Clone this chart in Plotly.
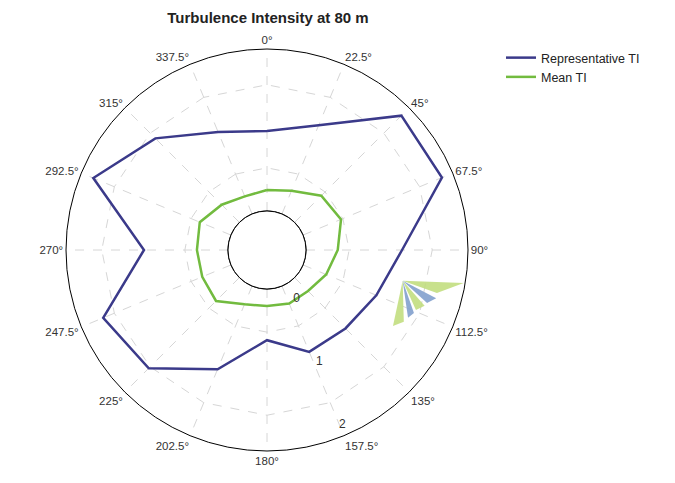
import plotly.graph_objects as go

directions = [0, 22.5, 45, 67.5, 90, 112.5, 135, 157.5, 180, 202.5, 225, 247.5, 270, 292.5, 315, 337.5]
direction_labels = ["0°", "22.5°", "45°", "67.5°", "90°", "112.5°", "135°", "157.5°", "180°",
                    "202.5°", "225°", "247.5°", "270°", "292.5°", "315°", "337.5°"]
representative_ti = [1.00, 1.24, 2.06, 2.05, 1.24, 0.99, 0.88, 0.87, 0.57, 1.15, 1.72, 1.87, 1.06, 2.03, 1.58, 1.13]
mean_ti = [0.12, 0.18, 0.37, 0.42, 0.28, 0.18, 0.09, 0.09, 0.06, 0.10, 0.30, 0.27, 0.27, 0.31, 0.18, 0.09]
radial_ticks = [0, 1, 2]
radial_range = [-0.194, 2.224]
grid_rings = [0.45, 1.69]

# small fan glyph near 105 degrees (apex + pairs of outer points)
glyph_apex = (102.75, 1.30)
glyph_green = [[(99.5, 2.20), (104.2, 1.84)], [(109.5, 1.72), (111.9, 1.62)], [(117.7, 1.53), (121.1, 1.42)]]
glyph_blue = [[(105.9, 1.85), (108.3, 1.74)], [(113.2, 1.61), (115.7, 1.56)]]

navy = "#3b3a8a"
green = "#72bb3f"

OFF = 8  # page body margin
W, H = 675, 483
RAD_ANGLE = -70

fig = go.Figure()

# invisible trace so the category-grid subplot is drawn
fig.add_trace(go.Scatterpolar(theta=direction_labels, r=[radial_ticks[1]] * len(direction_labels),
                              mode="lines", line=dict(width=0, color="rgba(0,0,0,0)"),
                              showlegend=False, hoverinfo="skip", subplot="polar"))

# glyph
for pts, col in [(p, "rgba(190,220,120,0.85)") for p in glyph_green] + [(p, "rgba(130,160,205,0.9)") for p in glyph_blue]:
    th = [glyph_apex[0], pts[0][0], pts[1][0], glyph_apex[0]]
    rr = [glyph_apex[1], pts[0][1], pts[1][1], glyph_apex[1]]
    fig.add_trace(go.Scatterpolar(theta=th, r=rr, mode="lines", fill="toself", fillcolor=col,
                                  line=dict(width=0, color=col), showlegend=False, hoverinfo="skip",
                                  subplot="polar2"))

# inner hole ring
hole_theta = [i * 2 for i in range(181)]
fig.add_trace(go.Scatterpolar(theta=hole_theta, r=[radial_range[0]] * len(hole_theta), mode="lines",
                              line=dict(color="black", width=1), showlegend=False, hoverinfo="skip",
                              cliponaxis=False, subplot="polar2"))

fig.add_trace(go.Scatterpolar(theta=directions + [directions[0]], r=representative_ti + [representative_ti[0]],
                              mode="lines", name="Representative TI", line=dict(color=navy, width=2.5),
                              subplot="polar2"))
fig.add_trace(go.Scatterpolar(theta=directions + [directions[0]], r=mean_ti + [mean_ti[0]],
                              mode="lines", name="Mean TI", line=dict(color=green, width=2.5),
                              subplot="polar2"))

dom_x = [(66 - OFF) / W, (468 - OFF) / W]
dom_y = [1 - (451 - OFF) / H, 1 - (49 - OFF) / H]
hole = 0.194

fig.update_layout(
    width=W, height=H,
    margin=dict(l=0, r=0, t=0, b=0),
    paper_bgcolor="white",
    font=dict(family="Arial, Liberation Sans, sans-serif", color="#333333", size=12),
    title=dict(text="<b>Turbulence Intensity at 80 m</b>", x=(268 - OFF) / W, xanchor="center",
               y=1 - (18 - OFF) / H, yanchor="middle", font=dict(size=15, color="#222222")),
    polar=dict(
        domain=dict(x=dom_x, y=dom_y),
        hole=hole,
        bgcolor="white",
        gridshape="linear",
        radialaxis=dict(range=radial_range, tickmode="array", tickvals=grid_rings,
                        showticklabels=False, showline=False, ticks="", showgrid=True,
                        gridcolor="#d6d6d6", griddash="dash", gridwidth=1),
        angularaxis=dict(type="category", categoryorder="array", categoryarray=direction_labels,
                         rotation=90, direction="clockwise",
                         showticklabels=False, showline=False, ticks="",
                         showgrid=True, gridcolor="#d6d6d6", griddash="dash", gridwidth=1),
    ),
    polar2=dict(
        domain=dict(x=dom_x, y=dom_y),
        hole=hole,
        bgcolor="rgba(0,0,0,0)",
        radialaxis=dict(range=radial_range, tickmode="array", tickvals=radial_ticks,
                        showgrid=False, showline=False, ticks="", angle=RAD_ANGLE,
                        tickangle=RAD_ANGLE,
                        side="counterclockwise", tickfont=dict(size=12, color="#333333")),
        angularaxis=dict(rotation=90, direction="clockwise", tickmode="array",
                         tickvals=directions, ticktext=direction_labels, showgrid=False,
                         showline=True, linecolor="black", linewidth=1, ticks="",
                         tickfont=dict(size=11.5, color="#333333")),
    ),
    legend=dict(x=493 / W, xanchor="left", y=1 - 35 / H, yanchor="top",
                font=dict(size=12.5, color="#222222"), bgcolor="rgba(0,0,0,0)",
                tracegroupgap=0, itemwidth=30),
    showlegend=True,
)

fig.write_html("out.html")
